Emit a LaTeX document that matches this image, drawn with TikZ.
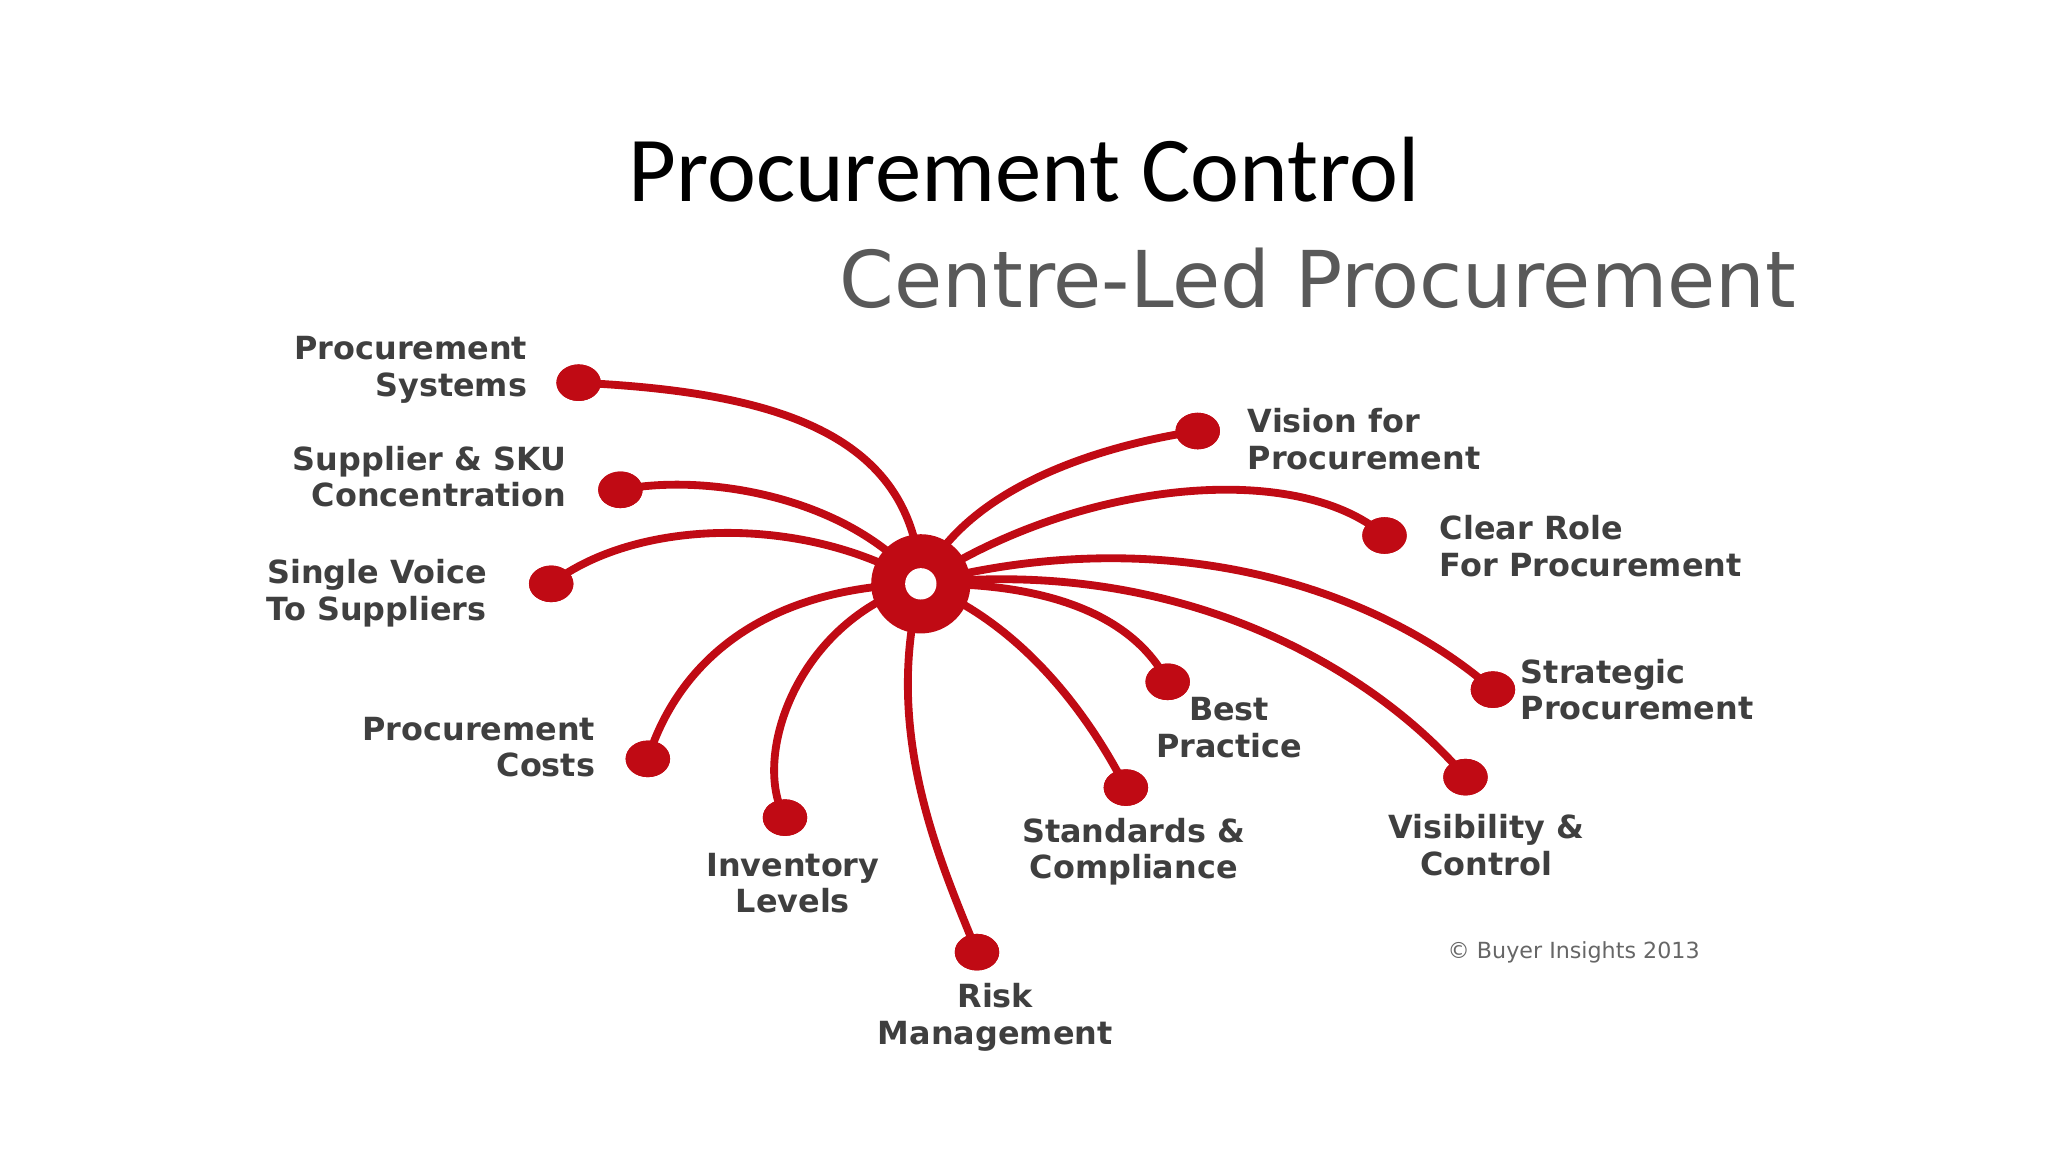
\documentclass[tikz,border=0pt]{standalone}
\usepackage{fontspec}
\setmainfont{DejaVu Sans}
\newfontfamily\titlefont{Carlito}
\usetikzlibrary{shapes.geometric}
\definecolor{pred}{HTML}{C00A14}
\definecolor{lab}{HTML}{3F3F3F}
\begin{document}
\begin{tikzpicture}[x=0.5pt,y=-0.5pt,
  dotn/.style={ellipse,fill=pred,minimum width=17pt,minimum height=14pt,inner sep=0pt},
  spoke/.style={draw=pred,line width=3pt,line cap=round},
  lbl/.style={text=lab,font=\bfseries\fontsize{12.2}{14}\selectfont,inner sep=0pt}]
\useasboundingbox (0,0) rectangle (1568,882);
\node[font=\titlefont\fontsize{35.5}{40}\selectfont,text=black] (title) at (784,130) {Procurement Control};
\node[font=\fontsize{30}{34}\selectfont,text=black!65] (sub) at (1009,213) {Centre-Led Procurement};
\coordinate (h) at (705,447);
\node[dotn] (d1) at (443,293) {};
\node[dotn] (d2) at (475,375) {};
\node[dotn] (d3) at (422,447) {};
\node[dotn] (d4) at (496,581) {};
\node[dotn] (d5) at (601,626) {};
\node[dotn] (d6) at (748,729) {};
\node[dotn] (d7) at (862,603) {};
\node[dotn] (d8) at (894,522) {};
\node[dotn] (d9) at (1122,595) {};
\node[dotn] (d10) at (1143,528) {};
\node[dotn] (d11) at (1060,410) {};
\node[dotn] (d12) at (917,330) {};
\draw[spoke] (h) .. controls (700,330) and (590,300) .. (d1.center);
\draw[spoke] (h) .. controls (650,380) and (540,362) .. (d2.center);
\draw[spoke] (h) .. controls (620,395) and (490,395) .. (d3.center);
\draw[spoke] (h) .. controls (570,450) and (515,520) .. (d4.center);
\draw[spoke] (h) .. controls (610,475) and (575,580) .. (d5.center);
\draw[spoke] (h) .. controls (675,560) and (720,660) .. (d6.center);
\draw[spoke] (h) .. controls (790,480) and (840,560) .. (d7.center);
\draw[spoke] (h) .. controls (840,445) and (880,495) .. (d8.center);
\draw[spoke] (h) .. controls (900,425) and (1050,510) .. (d9.center);
\draw[spoke] (h) .. controls (900,395) and (1060,455) .. (d10.center);
\draw[spoke] (h) .. controls (820,370) and (990,350) .. (d11.center);
\draw[spoke] (h) .. controls (740,370) and (850,340) .. (d12.center);
\foreach \n in {d1,d2,d3,d4,d5,d6,d7,d8,d9,d10,d11,d12} \node[dotn] at (\n) {};
\node[circle,fill=pred,minimum size=38pt,inner sep=0pt] (hub) at (h) {};
\node[circle,fill=white,minimum size=12pt,inner sep=0pt] (hole) at (h) {};
\node[lbl,align=right,anchor=east] (l1) at (404,283) {Procurement\\Systems};
\node[lbl,align=right,anchor=east] (l2) at (434,365) {Supplier \& SKU\\Concentration};
\node[lbl,align=right,anchor=east] (l3) at (373,454) {Single Voice\\To Suppliers};
\node[lbl,align=right,anchor=east] (l4) at (456,572) {Procurement\\Costs};
\node[lbl,align=center] (l5) at (607,676) {Inventory\\Levels};
\node[lbl,align=center] (l6) at (762,779) {Risk\\Management};
\node[lbl,align=center] (l7) at (868,652) {Standards \&\\Compliance};
\node[lbl,align=center] (l8) at (941,557) {Best\\Practice};
\node[lbl,align=center] (l9) at (1138,647) {Visibility \&\\Control};
\node[lbl,align=left,anchor=west] (l10) at (1164,528) {Strategic\\Procurement};
\node[lbl,align=left,anchor=west] (l11) at (1102,418) {Clear Role\\For Procurement};
\node[lbl,align=left,anchor=west] (l12) at (955,336) {Vision for\\Procurement};
\node[text=black!60,font=\fontsize{8.5}{10}\selectfont,anchor=west,inner sep=0pt] (copy) at (1108,729) {© Buyer Insights 2013};
\end{tikzpicture}
\end{document}
